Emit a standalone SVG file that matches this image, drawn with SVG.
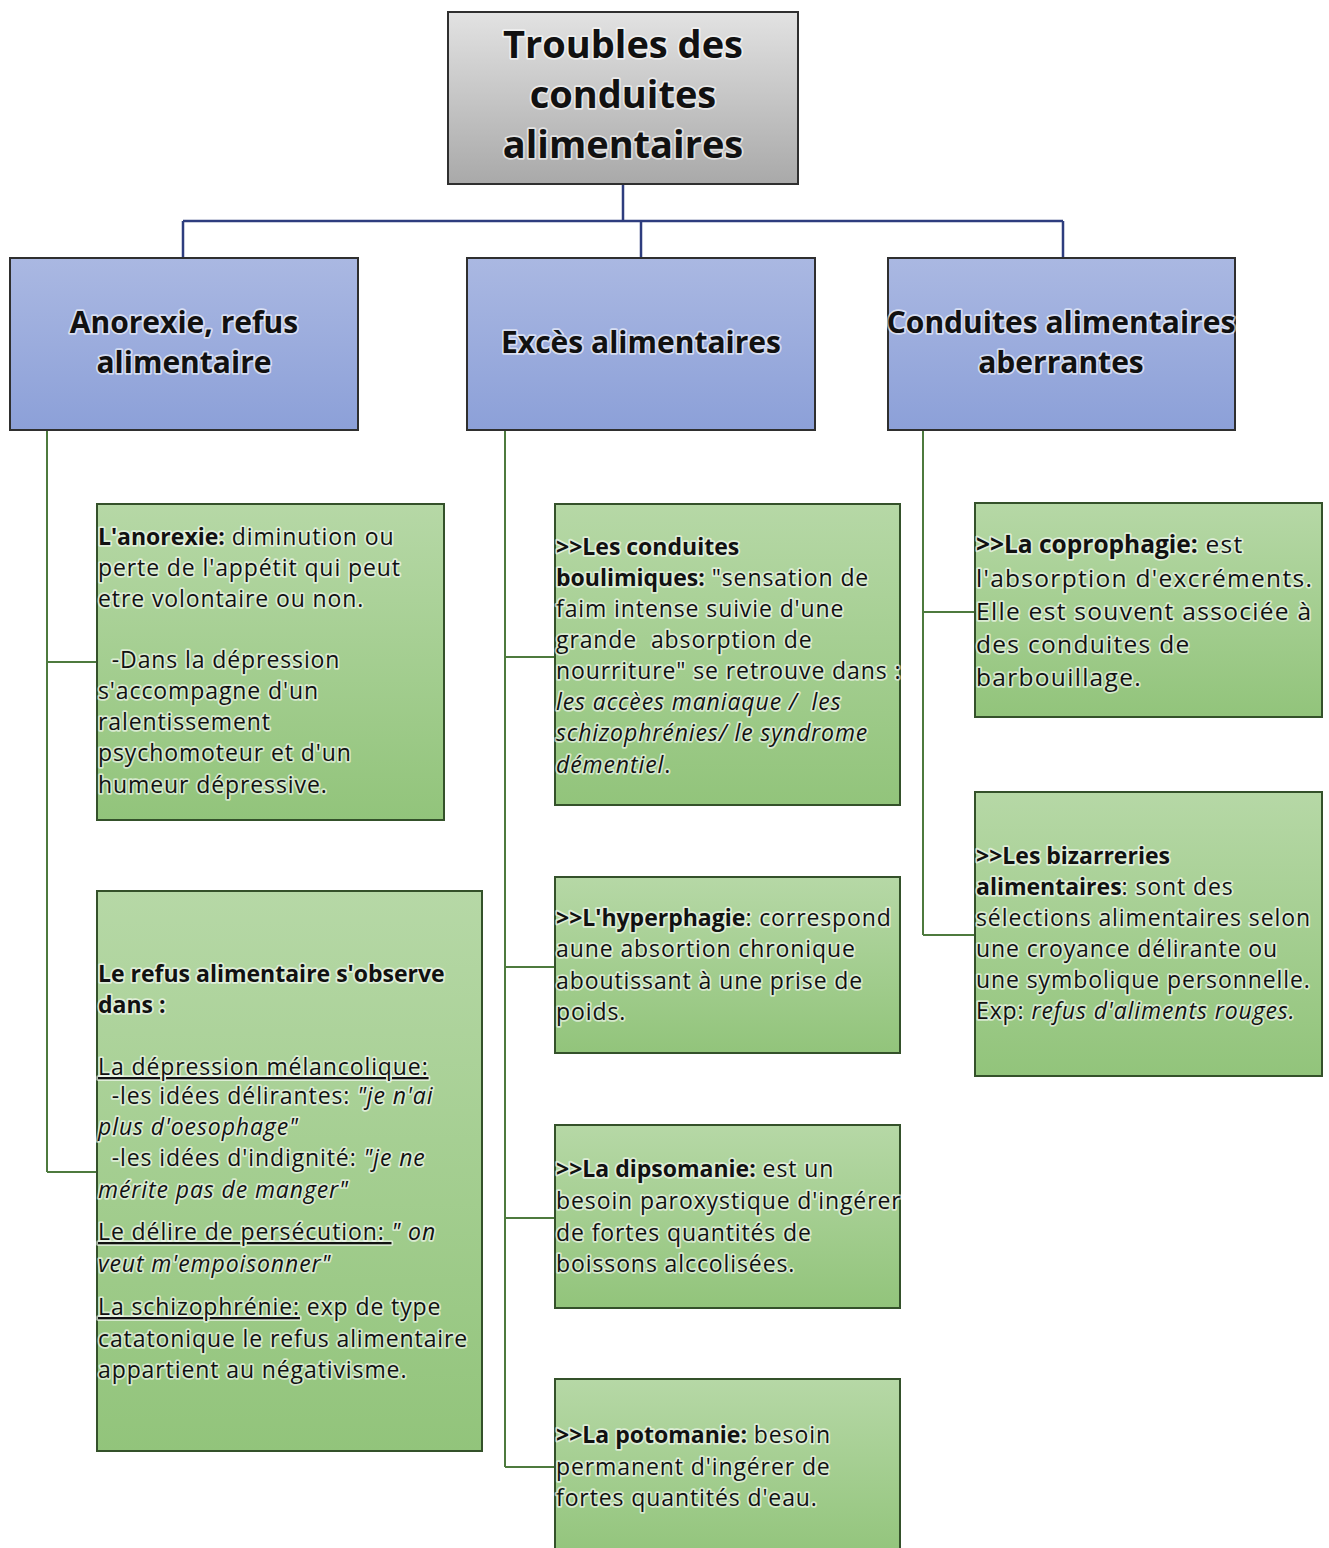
<svg xmlns="http://www.w3.org/2000/svg" width="1329" height="1548" viewBox="0 0 1329 1548">
<defs>
<linearGradient id="gGray" x1="0" y1="0" x2="0" y2="1"><stop offset="0" stop-color="#e2e2e2"/><stop offset="1" stop-color="#a9a9a9"/></linearGradient>
<linearGradient id="gBlue" x1="0" y1="0" x2="0" y2="1"><stop offset="0" stop-color="#aab8e2"/><stop offset="1" stop-color="#8ca0d8"/></linearGradient>
<linearGradient id="gGreen" x1="0" y1="0" x2="0" y2="1"><stop offset="0" stop-color="#b6d8a6"/><stop offset="1" stop-color="#92c47b"/></linearGradient>
<style>
.box{stroke:#2f2f2f;stroke-width:2}
.gray{fill:url(#gGray)}
.blue{fill:url(#gBlue)}
.green{fill:url(#gGreen);stroke:#34512a}
.t{font-family:"Open Sans",Lato,"Liberation Sans",sans-serif;fill:#111;paint-order:stroke;stroke:#ffffff;stroke-opacity:0.6;stroke-width:3.5px;stroke-linejoin:round}
.title{font-size:38px;font-weight:bold;text-anchor:middle}
.cat{font-size:30px;font-weight:bold;text-anchor:middle}
.body{font-size:23px;letter-spacing:0.9px}
.c2{font-size:24.5px;letter-spacing:1.3px}
.b{font-weight:bold;letter-spacing:0px}
.i{font-style:italic}
.u{text-decoration:underline}
.lnb{stroke:#2e3d7e;stroke-width:2.5;fill:none}
.lng{stroke:#4d7a3e;stroke-width:2;fill:none}
</style>
</defs>

<g id="connectors">
<path class="lnb" d="M623 184V221M183 221H1063M183 221V258M641 221V258M1063 221V258"/>
<path class="lng" d="M47 430V1172M47 662H97M47 1172H97"/>
<path class="lng" d="M505 430V1467M505 657H555M505 967H555M505 1218H555M505 1467H555"/>
<path class="lng" d="M923 430V935M923 612H975M923 935H975"/>
</g>

<g id="root">
<rect class="box gray" x="448" y="12" width="350" height="172"/>
<text class="t title" x="623"><tspan x="623" y="58">Troubles des</tspan><tspan x="623" y="108">conduites</tspan><tspan x="623" y="158">alimentaires</tspan></text>
</g>

<g id="cat-anorexie">
<rect class="box blue" x="10" y="258" width="348" height="172"/>
<text class="t cat"><tspan x="184" y="333">Anorexie, refus</tspan><tspan x="184" y="373">alimentaire</tspan></text>
</g>
<g id="cat-exces">
<rect class="box blue" x="467" y="258" width="348" height="172"/>
<text class="t cat"><tspan x="641" y="353">Excès alimentaires</tspan></text>
</g>
<g id="cat-aberrantes">
<rect class="box blue" x="888" y="258" width="347" height="172"/>
<text class="t cat"><tspan x="1061" y="333">Conduites alimentaires</tspan><tspan x="1061" y="373">aberrantes</tspan></text>
</g>

<g id="anorexie">
<rect class="box green" x="97" y="504" width="347" height="316"/>
<text class="t body">
<tspan x="98" y="545"><tspan class="b">L'anorexie:</tspan> diminution ou</tspan>
<tspan x="98" y="576">perte de l'appétit qui peut</tspan>
<tspan x="98" y="607">etre volontaire ou non.</tspan>
<tspan x="98" y="668" xml:space="preserve">  -Dans la dépression</tspan>
<tspan x="98" y="699">s'accompagne d'un</tspan>
<tspan x="98" y="730">ralentissement</tspan>
<tspan x="98" y="761">psychomoteur et d'un</tspan>
<tspan x="98" y="793">humeur dépressive.</tspan>
</text>
</g>

<g id="refus">
<rect class="box green" x="97" y="891" width="385" height="560"/>
<text class="t body">
<tspan x="98" y="982" class="b">Le refus alimentaire s'observe</tspan>
<tspan x="98" y="1013" class="b">dans :</tspan>
<tspan x="98" y="1075" class="u">La dépression mélancolique:</tspan>
<tspan x="98" y="1104" xml:space="preserve">  -les idées délirantes: <tspan class="i">"je n'ai</tspan></tspan>
<tspan x="98" y="1135" class="i">plus d'oesophage"</tspan>
<tspan x="98" y="1166" xml:space="preserve">  -les idées d'indignité: <tspan class="i">"je ne</tspan></tspan>
<tspan x="98" y="1198" class="i">mérite pas de manger"</tspan>
<tspan x="98" y="1240"><tspan class="u" xml:space="preserve">Le délire de persécution: </tspan><tspan class="i">" on</tspan></tspan>
<tspan x="98" y="1272" class="i">veut m'empoisonner"</tspan>
<tspan x="98" y="1315"><tspan class="u">La schizophrénie:</tspan> exp de type</tspan>
<tspan x="98" y="1347">catatonique le refus alimentaire</tspan>
<tspan x="98" y="1378">appartient au négativisme.</tspan>
</text>
</g>

<g id="boulimie">
<rect class="box green" x="555" y="504" width="345" height="301"/>
<text class="t body">
<tspan x="556" y="555" class="b">&gt;&gt;Les conduites</tspan>
<tspan x="556" y="586"><tspan class="b">boulimiques:</tspan> "sensation de</tspan>
<tspan x="556" y="617">faim intense suivie d'une</tspan>
<tspan x="556" y="648" xml:space="preserve">grande  absorption de</tspan>
<tspan x="556" y="679">nourriture" se retrouve dans :</tspan>
<tspan x="556" y="710" class="i" xml:space="preserve">les accèes maniaque /  les</tspan>
<tspan x="556" y="741" class="i">schizophrénies/ le syndrome</tspan>
<tspan x="556" y="773"><tspan class="i">démentiel</tspan>.</tspan>
</text>
</g>

<g id="hyperphagie">
<rect class="box green" x="555" y="877" width="345" height="176"/>
<text class="t body">
<tspan x="556" y="926"><tspan class="b">&gt;&gt;L'hyperphagie</tspan>: correspond</tspan>
<tspan x="556" y="957">aune absortion chronique</tspan>
<tspan x="556" y="989">aboutissant à une prise de</tspan>
<tspan x="556" y="1020">poids.</tspan>
</text>
</g>

<g id="dipsomanie">
<rect class="box green" x="555" y="1125" width="345" height="183"/>
<text class="t body">
<tspan x="556" y="1177"><tspan class="b">&gt;&gt;La dipsomanie:</tspan> est un</tspan>
<tspan x="556" y="1209">besoin paroxystique d'ingérer</tspan>
<tspan x="556" y="1241">de fortes quantités de</tspan>
<tspan x="556" y="1272">boissons alccolisées.</tspan>
</text>
</g>

<g id="potomanie">
<rect class="box green" x="555" y="1379" width="345" height="180"/>
<text class="t body">
<tspan x="556" y="1443"><tspan class="b">&gt;&gt;La potomanie:</tspan> besoin</tspan>
<tspan x="556" y="1475">permanent d'ingérer de</tspan>
<tspan x="556" y="1506">fortes quantités d'eau.</tspan>
</text>
</g>

<g id="coprophagie">
<rect class="box green" x="975" y="503" width="347" height="214"/>
<text class="t c2">
<tspan x="976" y="553"><tspan class="b">&gt;&gt;La coprophagie:</tspan> est</tspan>
<tspan x="976" y="587">l'absorption d'excréments.</tspan>
<tspan x="976" y="620">Elle est souvent associée à</tspan>
<tspan x="976" y="653">des conduites de</tspan>
<tspan x="976" y="686">barbouillage.</tspan>
</text>
</g>

<g id="bizarreries">
<rect class="box green" x="975" y="792" width="347" height="284"/>
<text class="t body">
<tspan x="976" y="864" class="b">&gt;&gt;Les bizarreries</tspan>
<tspan x="976" y="895"><tspan class="b">alimentaires</tspan>: sont des</tspan>
<tspan x="976" y="926">sélections alimentaires selon</tspan>
<tspan x="976" y="957">une croyance délirante ou</tspan>
<tspan x="976" y="988">une symbolique personnelle.</tspan>
<tspan x="976" y="1019">Exp: <tspan class="i">refus d'aliments rouges.</tspan></tspan>
</text>
</g>
</svg>
